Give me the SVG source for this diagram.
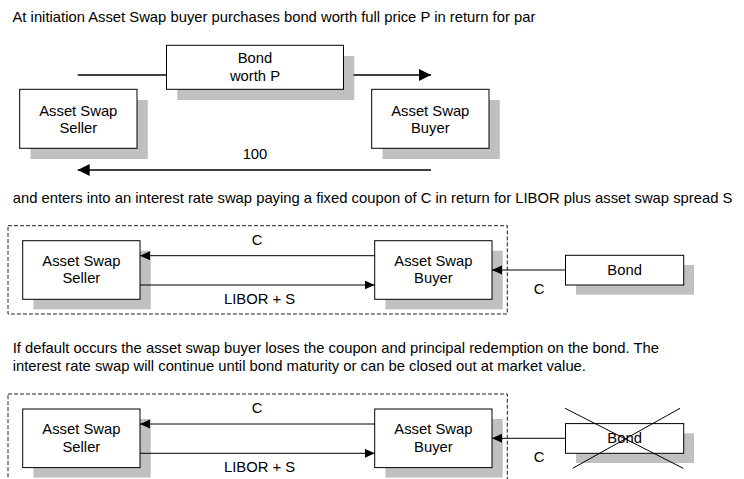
<svg xmlns="http://www.w3.org/2000/svg" width="744" height="479" viewBox="0 0 744 479">
<style>
text{font-family:"Liberation Sans",Arial,sans-serif;font-size:14.8px;fill:#000}
.c{text-anchor:middle}
.box{fill:#fff;stroke:#000;stroke-width:1}
.sh{fill:#c0c0c0;stroke:none}
.ln{stroke:#000;stroke-width:1;fill:none}
.lnb{stroke:#000;stroke-width:1.4;fill:none}
.dash{fill:none;stroke:#222;stroke-width:1;stroke-dasharray:4,2}
.x{stroke:#000;stroke-width:1}
</style>
<defs>
<marker id="ab" markerUnits="userSpaceOnUse" markerWidth="14" markerHeight="12" refX="12" refY="6" orient="auto">
<path d="M0,0 L12,6 L0,12 Z" fill="#000"/>
</marker>
<marker id="as" markerUnits="userSpaceOnUse" markerWidth="12" markerHeight="10" refX="10" refY="4.5" orient="auto">
<path d="M0,0 L10,4.5 L0,9 Z" fill="#000"/>
</marker>
</defs>

<text x="12.5" y="22.3">At initiation Asset Swap buyer purchases bond worth full price P in return for par</text>
<text x="12.7" y="202.7">and enters into an interest rate swap paying a fixed coupon of C in return for LIBOR plus asset swap spread S</text>
<text x="12.7" y="353.3">If default occurs the asset swap buyer loses the coupon and principal redemption on the bond. The</text>
<text x="12.7" y="370.7">interest rate swap will continue until bond maturity or can be closed out at market value.</text>

<rect class="dash" x="8" y="225.7" width="499.3" height="88.3"/>
<rect class="dash" x="8" y="394" width="499.3" height="88.3"/>

<g id="seller1">
<rect class="sh" x="30.5" y="100" width="117.3" height="59"/>
<rect class="box" x="19.7" y="89.3" width="117.3" height="59"/>
<text class="c" x="78.3" y="115.7">Asset Swap</text>
<text class="c" x="78.3" y="132.7">Seller</text>
</g>
<g id="bond1">
<rect class="sh" x="177.3" y="56" width="177" height="44"/>
<rect class="box" x="166.5" y="45.3" width="177" height="44"/>
<text class="c" x="255" y="63.3">Bond</text>
<text class="c" x="255" y="81">worth P</text>
</g>
<g id="buyer1">
<rect class="sh" x="382.5" y="100" width="117.3" height="59"/>
<rect class="box" x="371.7" y="89.3" width="117.3" height="59"/>
<text class="c" x="430.3" y="115.7">Asset Swap</text>
<text class="c" x="430.3" y="132.7">Buyer</text>
</g>

<g id="seller2">
<rect class="sh" x="33.4" y="250.7" width="117.3" height="58.6"/>
<rect class="box" x="22.7" y="240.7" width="117.3" height="58.6"/>
<text class="c" x="81.4" y="265.7">Asset Swap</text>
<text class="c" x="81.4" y="283.3">Seller</text>
</g>
<g id="buyer2">
<rect class="sh" x="385.4" y="250.7" width="117.3" height="58.6"/>
<rect class="box" x="374.7" y="240.7" width="117.3" height="58.6"/>
<text class="c" x="433.4" y="265.7">Asset Swap</text>
<text class="c" x="433.4" y="283.3">Buyer</text>
</g>
<g id="bond2">
<rect class="sh" x="576" y="265" width="118" height="29.7"/>
<rect class="box" x="565.5" y="255.3" width="118.2" height="29.7"/>
<text class="c" x="624.6" y="275">Bond</text>
</g>

<g id="seller3">
<rect class="sh" x="33.4" y="419" width="117.3" height="58.6"/>
<rect class="box" x="22.7" y="409" width="117.3" height="58.6"/>
<text class="c" x="81.4" y="434">Asset Swap</text>
<text class="c" x="81.4" y="451.6">Seller</text>
</g>
<g id="buyer3">
<rect class="sh" x="385.4" y="419" width="117.3" height="58.6"/>
<rect class="box" x="374.7" y="409" width="117.3" height="58.6"/>
<text class="c" x="433.4" y="434">Asset Swap</text>
<text class="c" x="433.4" y="451.6">Buyer</text>
</g>
<g id="bond3">
<rect class="sh" x="576" y="433.3" width="118" height="29.7"/>
<rect class="box" x="565.5" y="423.6" width="118.2" height="29.7"/>
<text class="c" x="624.6" y="443.3">Bond</text>
<line class="x" x1="565" y1="408.3" x2="683.3" y2="468.3"/>
<line class="x" x1="680" y1="408.3" x2="572.7" y2="468.3"/>
</g>

<g id="connectors">
<line class="lnb" x1="77.7" y1="75" x2="166.5" y2="75"/>
<line class="lnb" x1="353.5" y1="75" x2="431" y2="75" marker-end="url(#ab)"/>
<line class="lnb" x1="431" y1="170" x2="77.7" y2="170" marker-end="url(#ab)"/>
<text class="c" x="255" y="159.3">100</text>

<line class="ln" x1="374.7" y1="255.7" x2="140" y2="255.7" marker-end="url(#as)"/>
<text class="c" x="257" y="245">C</text>
<line class="ln" x1="140" y1="285" x2="374.7" y2="285" marker-end="url(#as)"/>
<text class="c" x="259.5" y="304">LIBOR + S</text>
<line class="ln" x1="565.5" y1="270" x2="492" y2="270" marker-end="url(#as)"/>
<text class="c" x="539" y="294">C</text>

<line class="ln" x1="374.7" y1="424" x2="140" y2="424" marker-end="url(#as)"/>
<text class="c" x="257" y="413.3">C</text>
<line class="ln" x1="140" y1="453.3" x2="374.7" y2="453.3" marker-end="url(#as)"/>
<text class="c" x="259.5" y="471.7">LIBOR + S</text>
<line class="ln" x1="565.5" y1="438.3" x2="492" y2="438.3" marker-end="url(#as)"/>
<text class="c" x="539" y="462.3">C</text>
</g>
</svg>
